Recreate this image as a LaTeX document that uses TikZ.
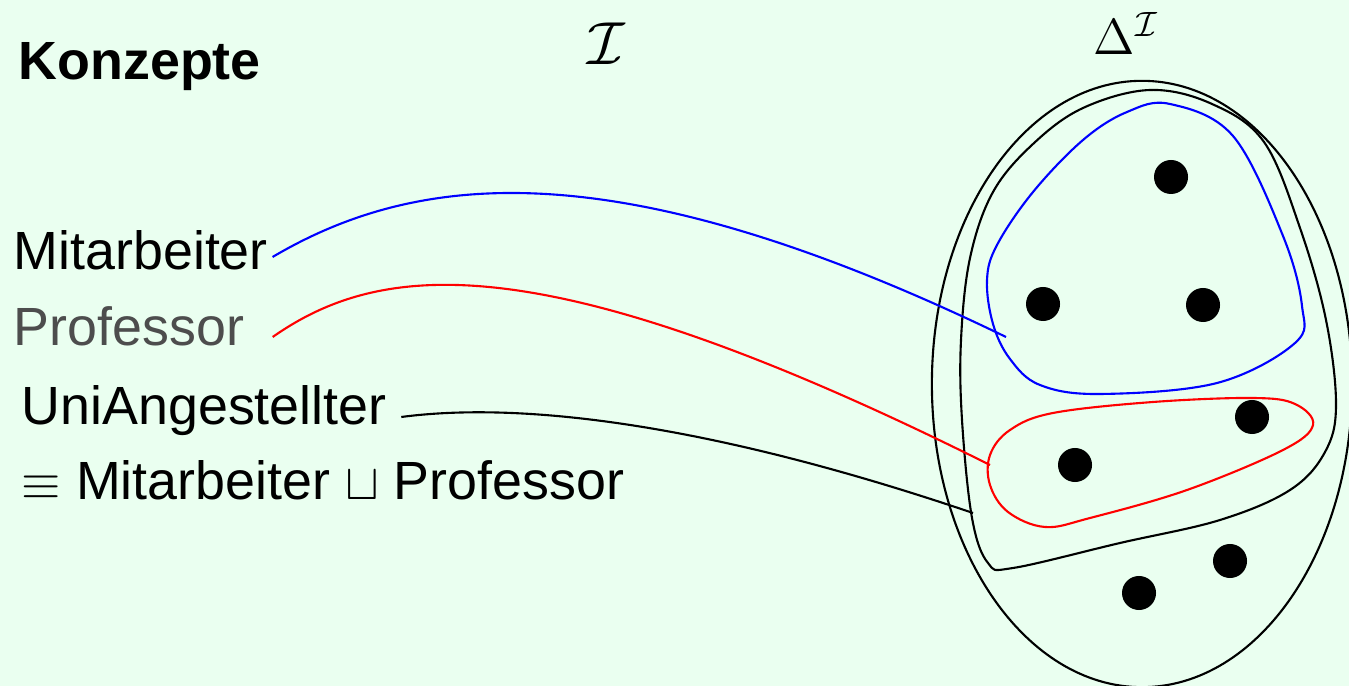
\documentclass[tikz,border=0pt]{standalone}
\usepackage{fontspec}
\setmainfont{Liberation Sans}
\definecolor{bgmint}{RGB}{234,255,240}
\definecolor{profgray}{RGB}{77,77,77}
\tikzset{
  lbl/.style={inner sep=0pt, anchor=base west, font=\fontsize{15.3}{18}\selectfont},
  mathlbl/.style={inner sep=0pt, anchor=base west, font=\fontsize{17.5}{20}\selectfont},
  setline/.style={line width=0.6pt},
}
\begin{document}
\begin{tikzpicture}[x=0.01cm, y=-0.01cm]
\fill[bgmint] (0,0) rectangle (1349,686);
\useasboundingbox (0,0) rectangle (1349,686);
\clip (0,0) rectangle (1349,686);
% labels
\node[lbl, font=\fontsize{15.3}{18}\selectfont\bfseries] (konz) at (18,80) {Konzepte};
\node[mathlbl] (interp) at (587,65) {$\mathcal{I}$};
\node[mathlbl, font=\fontsize{14.5}{17}\selectfont] (domain) at (1093,55) {$\Delta^{\mathcal{I}}$};
\node[lbl] (mit) at (13,270) {Mitarbeiter};
\node[lbl, text=profgray] (prof) at (13,346) {Professor};
\node[lbl] (uni) at (21,425) {UniAngestellter};
\node[lbl] (def) at (21,500) {$\equiv$ Mitarbeiter $\sqcup$ Professor};
% domain and sets
\draw[setline] (1142,384) ellipse [x radius=2.1cm, y radius=3.03cm];
\draw[setline] plot[smooth cycle, tension=0.6] coordinates {
  (1150,90) (1212,104) (1264,142) (1300,228) (1326,320) (1336,405)
  (1325,452) (1290,490) (1220,520) (1120,543) (1013,568) (988,563)
  (972,518) (962,420) (961,340) (970,258) (993,192) (1033,144)
  (1083,108)};
\draw[setline, blue] plot[smooth cycle, tension=0.6] coordinates {
  (1170,104) (1233,136) (1283,236) (1302,306) (1295,343)
  (1217,383) (1100,394) (1040,385) (1010,359) (993,324) (987,280)
  (997,245) (1033,192) (1083,140) (1127,112)};
\draw[setline, red] plot[smooth cycle, tension=0.6] coordinates {
  (1313,425) (1295,404) (1253,398) (1153,402) (1053,413) (1010,430)
  (990,455) (990,485) (1008,512) (1045,527) (1090,518) (1187,490)
  (1283,450)};
% elements
\foreach \ex/\ey in {1171/177, 1043/304, 1203/305, 1252/417, 1075/465, 1230/561, 1139/593}
  \fill (\ex,\ey) circle [radius=0.17cm];
% connectors
\coordinate (mitend) at (1006,337);
\coordinate (profend) at (990,465);
\coordinate (uniend) at (973,513);
\draw[setline, blue] ([shift={(0.04cm,0.13cm)}]mit.base east)
  .. controls (420,170) and (620,150) .. (mitend);
\draw[setline, red] ([shift={(0.28cm,0.09cm)}]prof.base east)
  .. controls (380,262) and (540,240) .. (profend);
\draw[setline] ([shift={(0.14cm,0.08cm)}]uni.base east)
  .. controls (470,408) and (640,400) .. (uniend);
\end{tikzpicture}
\end{document}
